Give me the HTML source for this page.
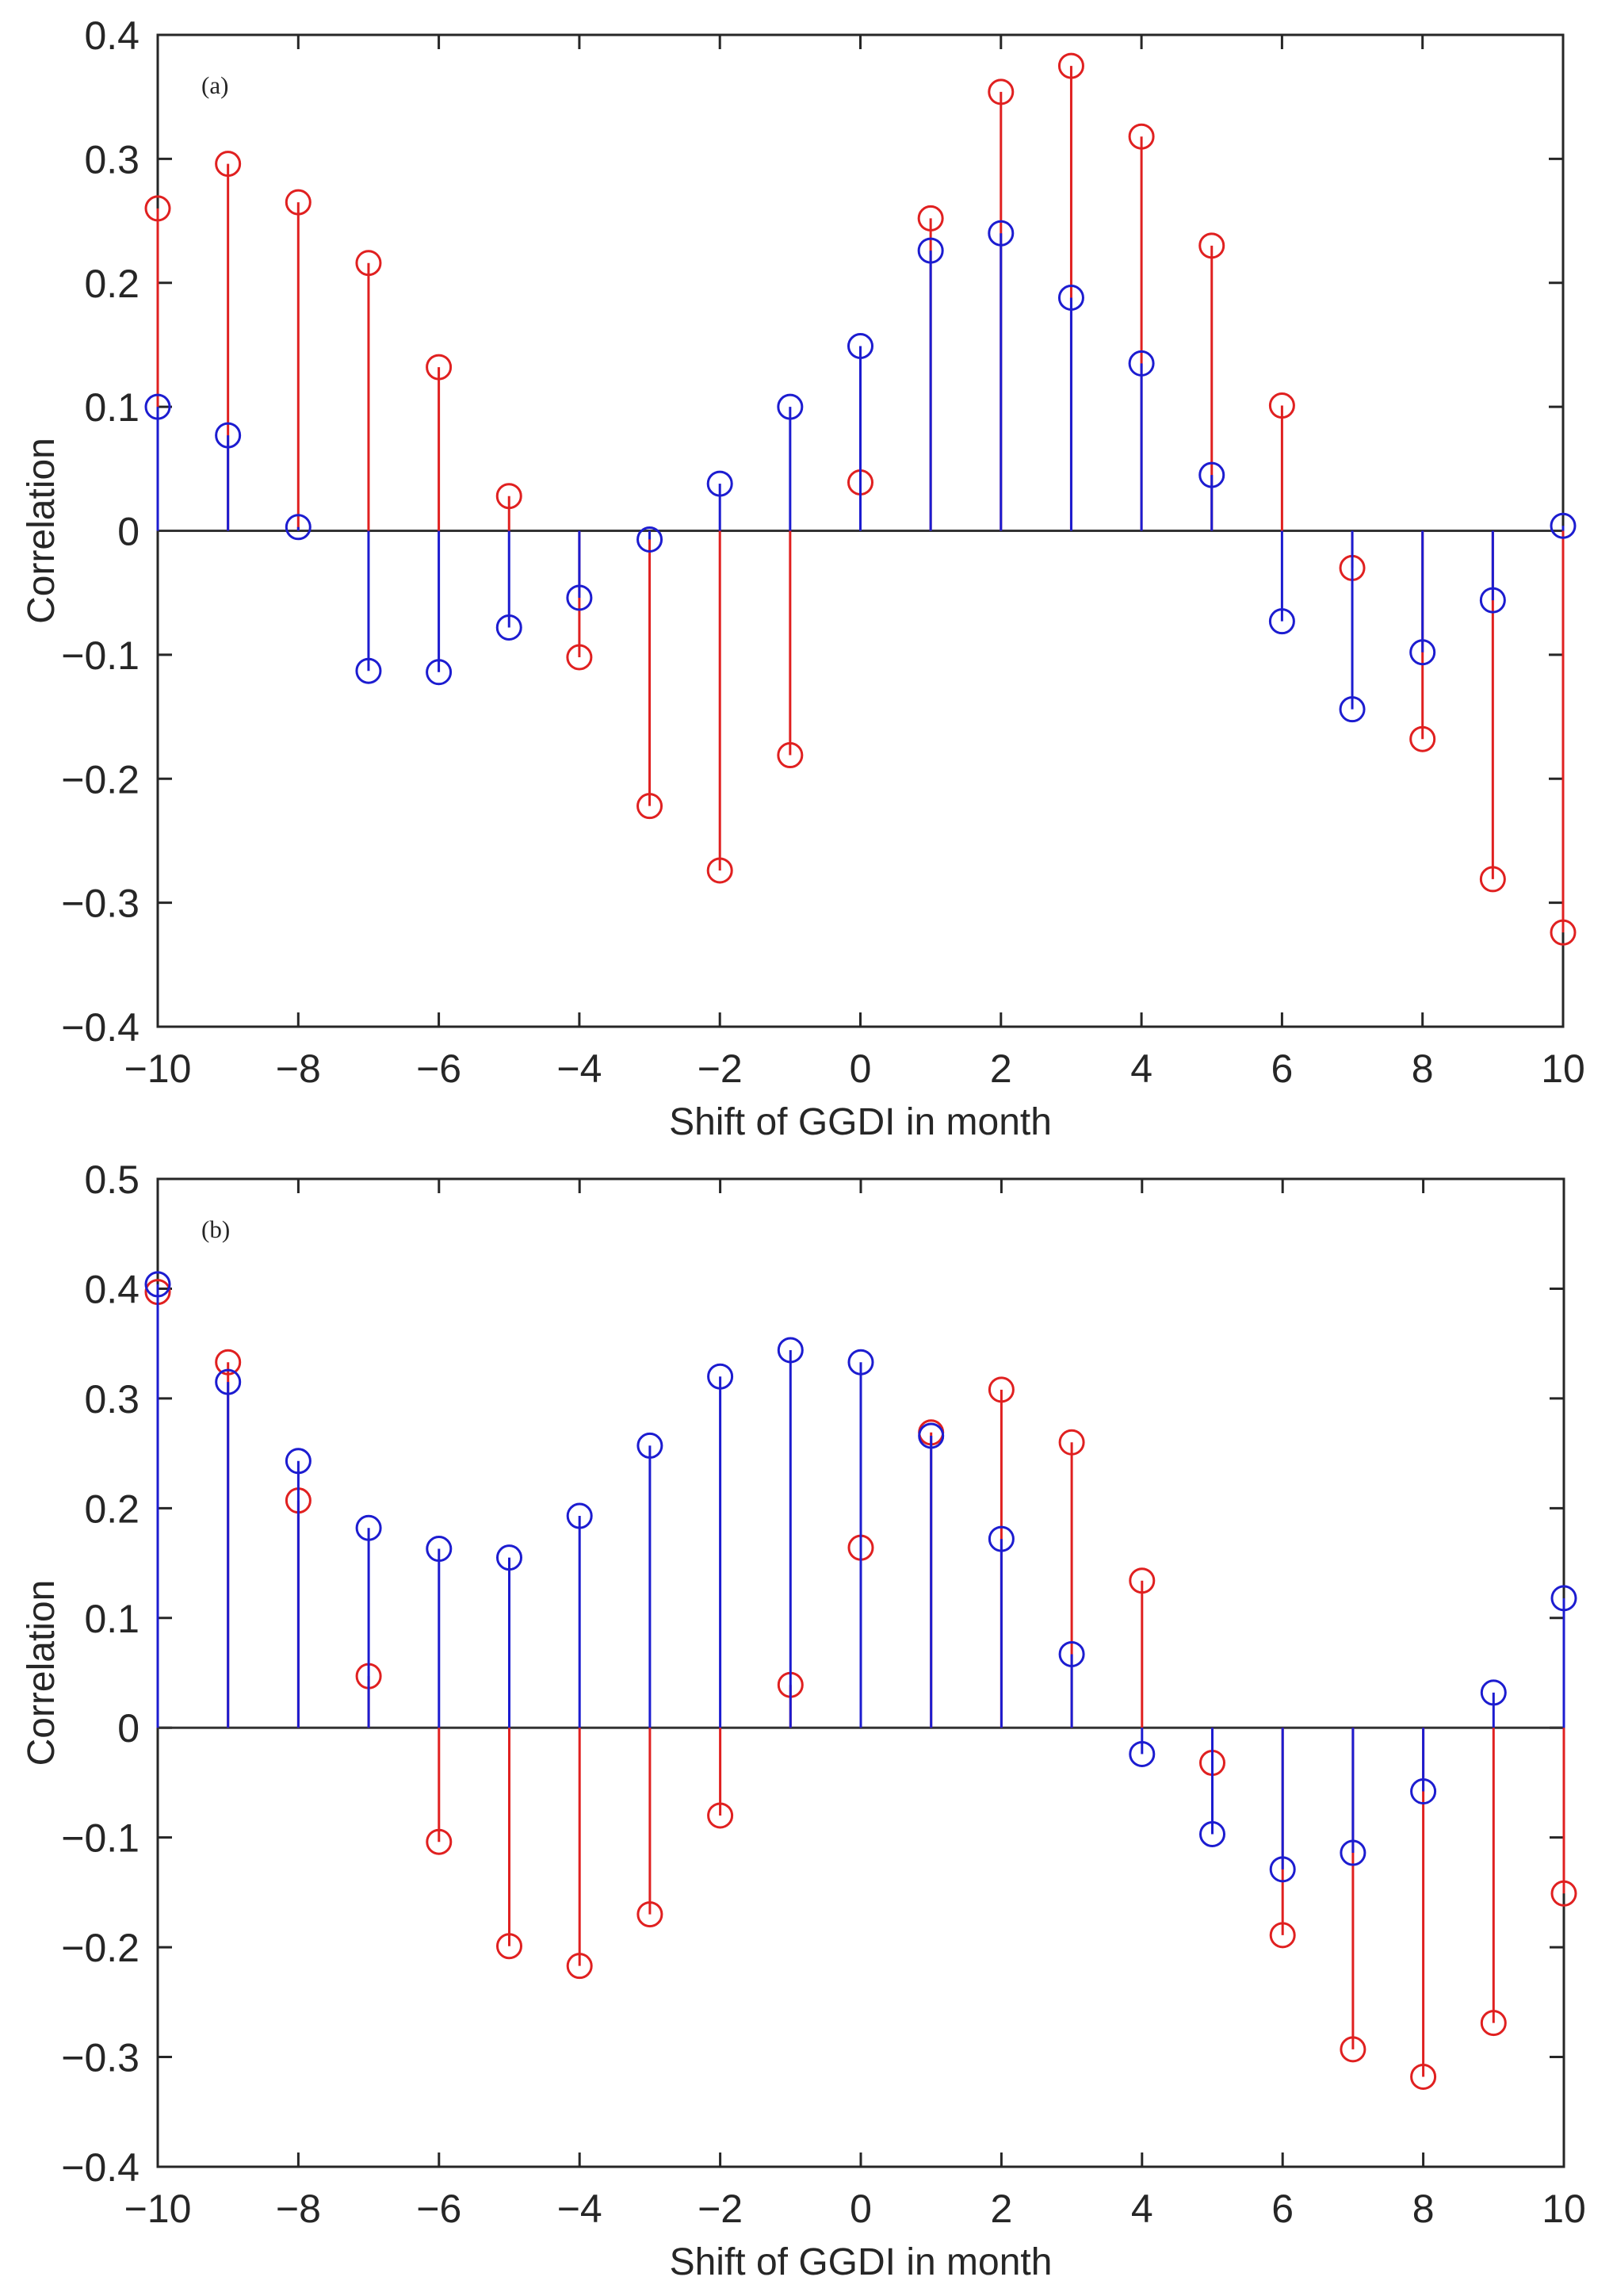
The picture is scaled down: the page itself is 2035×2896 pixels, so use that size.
<!DOCTYPE html>
<html><head><meta charset="utf-8"><style>
html,body{margin:0;padding:0;background:#fff}
svg{display:block}
text{font-family:"Liberation Sans",Arial,sans-serif;fill:#262626}
</style></head><body>
<svg id="chart" width="2035" height="2896" viewBox="0 0 2035 2896" xmlns="http://www.w3.org/2000/svg"></svg>
<script>
const shifts=[-10,-9,-8,-7,-6,-5,-4,-3,-2,-1,0,1,2,3,4,5,6,7,8,9,10];
const xTicks=[-10,-8,-6,-4,-2,0,2,4,6,8,10];
const blueA=[0.100,0.077,0.003,-0.113,-0.114,-0.078,-0.054,-0.007,0.038,0.100,0.149,0.226,0.240,0.188,0.135,0.045,-0.073,-0.144,-0.098,-0.056,0.004];
const redA=[0.260,0.296,0.265,0.216,0.132,0.028,-0.102,-0.222,-0.274,-0.181,0.039,0.252,0.354,0.375,0.318,0.230,0.101,-0.030,-0.168,-0.281,-0.324];
const blueB=[0.404,0.315,0.243,0.182,0.163,0.155,0.193,0.257,0.320,0.344,0.333,0.266,0.172,0.067,-0.024,-0.097,-0.129,-0.114,-0.058,0.032,0.118];
const redB=[0.397,0.333,0.207,0.047,-0.104,-0.199,-0.217,-0.170,-0.080,0.039,0.164,0.269,0.308,0.260,0.134,-0.032,-0.189,-0.293,-0.318,-0.269,-0.151];
const yTicksA=[-0.4,-0.3,-0.2,-0.1,0,0.1,0.2,0.3,0.4];
const yTicksB=[-0.4,-0.3,-0.2,-0.1,0,0.1,0.2,0.3,0.4,0.5];

const NS="http://www.w3.org/2000/svg";
const svg=document.getElementById('chart');
function mk(tag,attrs,parent){const e=document.createElementNS(NS,tag);for(const k in attrs)e.setAttribute(k,attrs[k]);(parent||svg).appendChild(e);return e;}
function fmt(v){if(Math.abs(v)<1e-9)return "0";return (v<0?"\u2212":"")+Math.abs(v).toFixed(1);}
function fmtX(v){return (v<0?"\u2212":"")+Math.abs(v);}

function panel(id,L,R,T,B,ymin,ymax,yTicks,blue,red,label){
  const g=mk('g',{});
  
  
  const xs=v=>L+(v+10)/20*(R-L);
  const ys=v=>B-(v-ymin)/(ymax-ymin)*(B-T);
  const box=mk('rect',{x:L,y:T,width:R-L,height:B-T,fill:'none',stroke:'#262626','stroke-width':3},g);
  
  
  xTicks.forEach(t=>{
    const x=xs(t);
    mk('line',{x1:x,x2:x,y1:B,y2:B-18,stroke:'#262626','stroke-width':3},g);
    mk('line',{x1:x,x2:x,y1:T,y2:T+18,stroke:'#262626','stroke-width':3},g);
    const tx=mk('text',{x:x,y:B+70,'text-anchor':'middle','font-size':50},g);
    tx.textContent=fmtX(t);
    
    
  });
  yTicks.forEach(t=>{
    const y=ys(t);
    mk('line',{x1:L,x2:L+18,y1:y,y2:y,stroke:'#262626','stroke-width':3},g);
    mk('line',{x1:R,x2:R-18,y1:y,y2:y,stroke:'#262626','stroke-width':3},g);
    const tx=mk('text',{x:176,y:y+18,'text-anchor':'end','font-size':50},g);
    tx.textContent=fmt(t);
    
    
  });
  const bl=mk('line',{x1:L,x2:R,y1:ys(0),y2:ys(0),stroke:'#333','stroke-width':3},g);
  
  
  [[red,'#e02020','red'],[blue,'#1c1cd0','blue']].forEach(([arr,col,nm])=>{
    const sg=mk('g',{},g);
    
    
    arr.forEach((v,i)=>{
      const x=xs(shifts[i]),y=ys(v);
      const s=mk('line',{x1:x,x2:x,y1:ys(0),y2:y,stroke:col,'stroke-width':3},sg);
      
      
      const c=mk('circle',{cx:x,cy:y,r:15,fill:'none',stroke:col,'stroke-width':3},sg);
      
      
    });
  });
  const xl=mk('text',{x:(L+R)/2,y:B+136,'text-anchor':'middle','font-size':48},g);
  xl.textContent='Shift of GGDI in month';
  
  
  const cy=(T+B)/2;
  const yl=mk('text',{x:68,y:cy,'text-anchor':'middle','font-size':48,transform:`rotate(-90 68 ${cy})`},g);
  yl.textContent='Correlation';
  
  
  const pl=mk('text',{x:254,y:T+74,'font-size':31,style:'font-family:"Liberation Serif",serif'},g);
  pl.textContent=label;
  
  
}
panel('a',199,1972,44,1295,-0.4,0.4,yTicksA,blueA,redA,'(a)');
panel('b',199,1973,1487,2733,-0.4,0.5,yTicksB,blueB,redB,'(b)');
</script>
</body></html>
